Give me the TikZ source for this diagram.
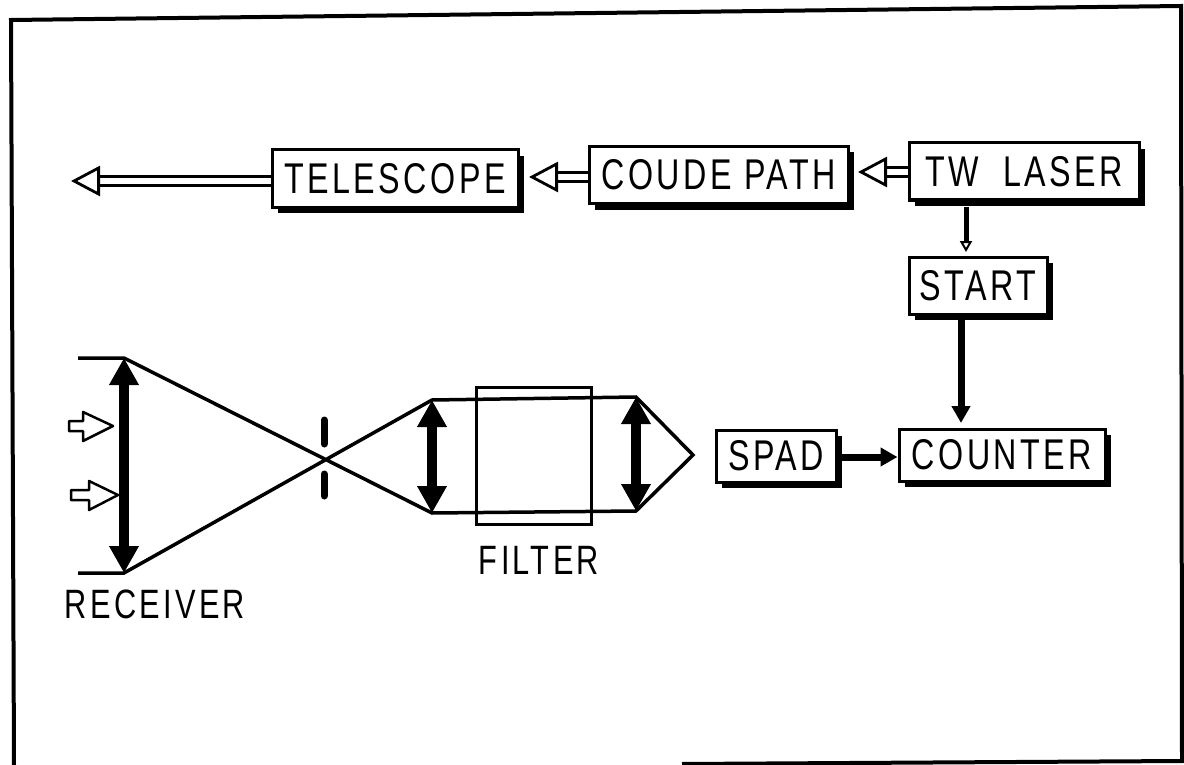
\documentclass[tikz,border=0pt]{standalone}
\usepackage{fontspec}
\setsansfont[FakeStretch=0.75, LetterSpace=8]{Liberation Sans}
\usetikzlibrary{arrows.meta, shadows}
\tikzset{
    block/.style={draw, line width=3pt, fill=white, inner sep=0pt, font=\sffamily\fontsize{43}{43}\selectfont,
        drop shadow={shadow xshift=6pt, shadow yshift=-6pt, opacity=1, fill=black}},
    textlabel/.style={font=\sffamily\fontsize{41}{41}\selectfont, inner sep=0pt},
    beam/.style={double, double distance=6pt, line width=2.8pt, -{Triangle[open, length=29pt, width=30pt, fill=white]}},
    thin beam/.style={line width=5pt, -{Triangle[open, length=11pt, width=12pt, line width=2pt, fill=white]}},
    signal/.style={line width=7pt, -{Triangle[length=17pt, width=18pt]}},
    lens/.style={line width=10pt, {Triangle[length=27pt, width=28pt]}-{Triangle[length=27pt, width=28pt]}},
    ray/.style={line width=3.5pt, line join=miter},
    small arrow/.style={draw, line width=2.5pt, fill=white, line join=round}
}
\begin{document}
\begin{tikzpicture}[x=1pt, y=-1pt]
    \useasboundingbox (0,0) rectangle (1184,765);

    % Frame
    \draw[line width=4pt] (14,765) -- (11,20) -- (1181,6) -- (1182,761) -- (682,764);

    % Blocks
    \node[block, minimum width=246pt, minimum height=57pt] (telescope) at (395,178.5) {TELESCOPE};
    \node[block, minimum width=259pt, minimum height=57pt] (coude) at (718.5,175) {COUDE PATH};
    \node[block, minimum width=230pt, minimum height=57pt] (laser) at (1024,171.5) {TW\hspace{12pt} LASER};
    \node[block, minimum width=138pt, minimum height=57pt] (start) at (978,285.5) {START};
    \node[block, minimum width=206pt, minimum height=52pt] (counter) at (1002,455) {COUNTER};
    \node[block, minimum width=120pt, minimum height=52pt] (spad) at (776,456) {SPAD};

    % Beam path
    \coordinate (exit) at (71,181);
    \coordinate (tele tip) at (529,177);
    \coordinate (coude tip) at (858,172);
    \draw[beam] (telescope.west |- exit) -- (exit);
    \draw[beam] (coude.west |- tele tip) -- (tele tip);
    \draw[beam] (laser.west |- coude tip) -- (coude tip);

    % Signals
    \coordinate (start tip) at (966,252);
    \coordinate (count tip) at (961,423);
    \coordinate (spad end) at (842,457);
    \draw[thin beam] (966,207) -- (start tip);
    \draw[signal] (961,320) -- (count tip);
    \draw[signal] (spad end) -- (counter.west |- spad end);

    % Receiver optics
    \coordinate (top) at (124,358);
    \coordinate (bottom) at (124,573);
    \coordinate (focus) at (324,460);
    \coordinate (apex) at (693,455);
    \coordinate (upper a) at (432,400);
    \coordinate (lower a) at (432,513);
    \coordinate (upper b) at (636,397);
    \coordinate (lower b) at (636,511);
    \draw[ray] (78,358) -- (top) -- (lower a) -- (lower b) -- (apex) -- (upper b) -- (upper a) -- (bottom) -- (78,573);
    \draw[lens] (top) -- (bottom);
    \draw[lens] (upper a) -- (lower a);
    \draw[lens] (upper b) -- (lower b);

    % Slit
    \draw[line width=7pt, line cap=round] (324,420) -- (324,444);
    \draw[line width=7pt, line cap=round] (324,474) -- (324,496);

    % Filter
    \node[draw, line width=3pt, minimum width=115pt, minimum height=137pt] (filterbox) at (533.5,455.5) {};
    \node[textlabel] (filter) at (539,560) {FILTER};
    \node[textlabel] (receiver) at (155,604) {RECEIVER};

    % Incoming light
    \draw[small arrow] (69,421) -- (83,421) -- (83,412) -- (113,426) -- (83,441) -- (83,431) -- (69,431) -- cycle;
    \draw[small arrow] (71,490) -- (89,490) -- (89,481) -- (118,495) -- (89,510) -- (89,500) -- (71,500) -- cycle;
\end{tikzpicture}
\end{document}
